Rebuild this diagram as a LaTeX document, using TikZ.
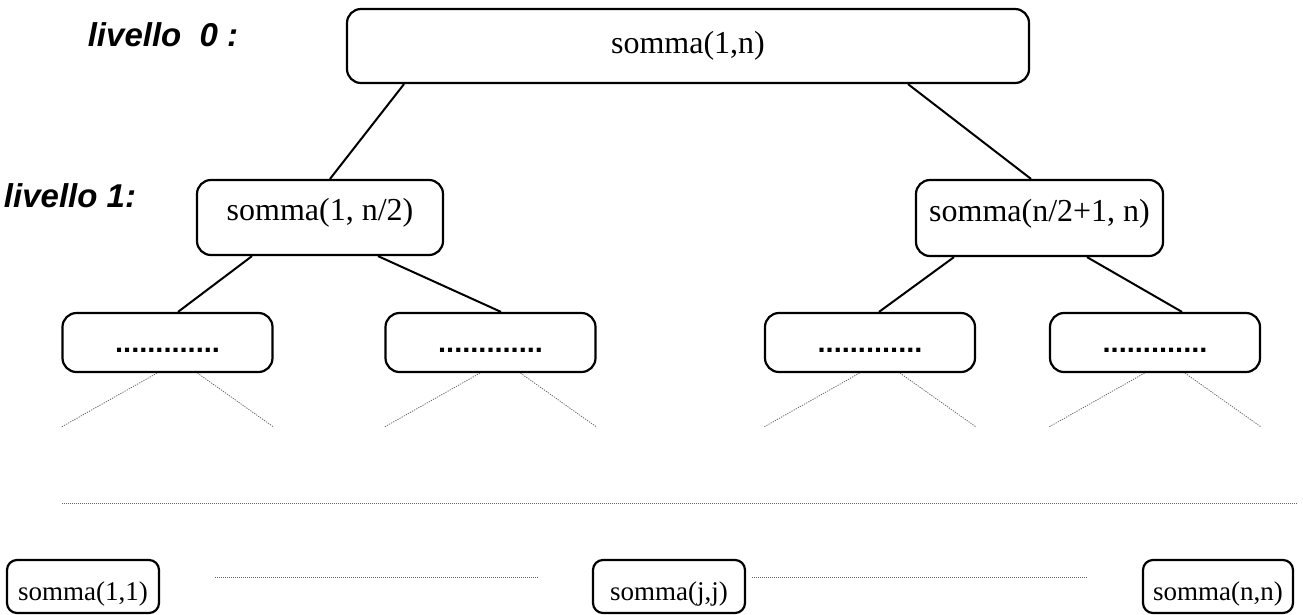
\documentclass[tikz,border=0pt]{standalone}
\usepackage{fontspec}
\setmainfont{Liberation Serif}
\newfontfamily\lvlfont{Liberation Sans}
\begin{document}
\begin{tikzpicture}[x=1pt,y=-1pt]
\tikzset{
  box/.style={draw, line width=2.2pt, rounded corners=14pt, inner sep=0pt},
  callfont/.style={font=\fontsize{32}{38}\selectfont},
  leaffont/.style={font=\fontsize{27}{32}\selectfont},
  dotsbox/.style={box, minimum width=210pt, minimum height=59pt,
    font=\lvlfont\bfseries\fontsize{29}{34}\selectfont, text height=20pt, text depth=0pt},
  leafbox/.style={box, rounded corners=10pt, minimum width=152pt, minimum height=53pt,
    leaffont, text height=28.5pt, text depth=0pt},
  lvl/.style={font=\lvlfont\bfseries\itshape\fontsize{33}{40}\selectfont, inner sep=0pt},
  tree/.style={line width=2pt},
  leg/.style={draw=black!60, line width=0.8pt, dash pattern=on 1.2pt off 1.2pt},
  gap/.style={draw=black!60, line width=0.9pt, dash pattern=on 1pt off 1pt}
}
\useasboundingbox (0,0) rectangle (1303,614);

% level labels
\node[lvl] (lv0) at (163,35) {livello\ \ 0 :};
\node[lvl] (lv1) at (70,196) {livello 1:};

% recursion tree
\node[box, callfont, minimum width=682pt, minimum height=74pt] (root) at (688,46) {somma(1,n)};
\node[box, callfont, minimum width=246pt, minimum height=75pt, text height=24pt, text depth=18pt] (L) at (320,217.5) {somma(1, n/2)};
\node[box, callfont, minimum width=247pt, minimum height=76pt, text height=24pt, text depth=18pt] (R) at (1039.5,218) {somma(n/2+1, n)};

\node[dotsbox] (d1) at (167.5,342.5) {.............};
\node[dotsbox] (d2) at (490.5,342.5) {.............};
\node[dotsbox] (d3) at (870,342.5) {.............};
\node[dotsbox] (d4) at (1155,342.5) {.............};

\draw[tree] ([xshift=-284pt]root.south) -- ([xshift=10pt]L.north);
\draw[tree] ([xshift=220pt]root.south) -- ([xshift=-8.5pt]R.north);
\draw[tree] ([xshift=-68pt]L.south) -- ([xshift=10.5pt]d1.north);
\draw[tree] ([xshift=58pt]L.south) -- ([xshift=10.5pt]d2.north);
\draw[tree] ([xshift=-85.5pt]R.south) -- ([xshift=9pt]d3.north);
\draw[tree] ([xshift=47.5pt]R.south) -- ([xshift=27pt]d4.north);

% faint legs continuing the tree downwards
\coordinate (legs) at (0,427);
\foreach \d in {d1,d2,d3,d4}{
  \draw[leg] ([xshift=-10.5pt]\d.south) -- (\d.south west |- legs);
  \draw[leg] ([xshift=30pt]\d.south) -- (\d.south east |- legs);
}

% separator
\coordinate (sepA) at (62,503);
\coordinate (sepB) at (1297,503);
\draw[gap] (sepA) -- (sepB);

% leaves
\node[leafbox] (b1) at (83,586.5) {somma(1,1)};
\node[leafbox] (b2) at (669,586.5) {somma(j,j)};
\node[leafbox, minimum width=150pt] (b3) at (1218,586.5) {somma(n,n)};

\coordinate (g1a) at (215,577);
\coordinate (g1b) at (538,577);
\coordinate (g2a) at (752,577);
\coordinate (g2b) at (1087,577);
\draw[gap] (g1a) -- (g1b);
\draw[gap] (g2a) -- (g2b);
\end{tikzpicture}
\end{document}
